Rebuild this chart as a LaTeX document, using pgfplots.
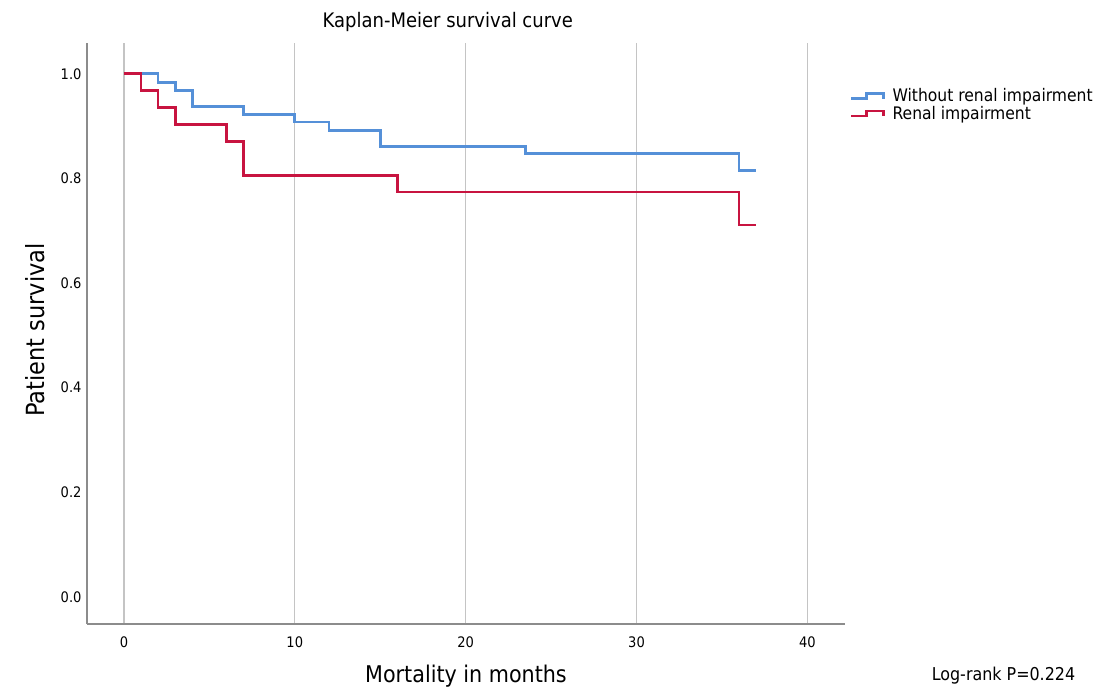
\documentclass[border=0pt]{standalone}
\usepackage{pgfplots}
\pgfplotsset{compat=1.18}
\usepackage{fontspec}
\setmainfont{DejaVu Sans Condensed}
\definecolor{kmblue}{HTML}{5590D8}
\definecolor{kmred}{HTML}{C81440}
\definecolor{gridgray}{HTML}{C4C4C4}
\definecolor{axgray}{HTML}{8C8C8C}
\begin{document}
\begin{tikzpicture}[x=1pt,y=1pt]
\path[use as bounding box] (0,0) rectangle (1099,-688);
\begin{axis}[
  at={(87pt,-624pt)}, anchor=south west,
  scale only axis, width=758pt, height=581pt,
  xmin=-2.16, xmax=42.2, ymin=-0.052, ymax=1.059,
  axis x line*=bottom, axis y line*=left,
  axis line style={-, axgray, line width=1.3pt},
  xtick={0,10,20,30,40},
  ytick={0,0.2,0.4,0.6,0.8,1.0},
  major tick length=0pt,
  xmajorgrids,
  major grid style={gridgray, line width=1.3pt},
  /pgf/number format/assume math mode=true,
  yticklabel style={font=\fontsize{14.5}{16}\selectfont, anchor=east, xshift=-2pt,
    /pgf/number format/.cd, fixed, fixed zerofill, precision=1},
  xticklabel style={font=\fontsize{14.5}{16}\selectfont, yshift=-9pt},
  title={Kaplan-Meier survival curve},
  title style={font=\fontsize{20}{24}\selectfont, at={(rel axis cs:0.476,1.0396)}, anchor=center, yshift=-8pt},
  xlabel={Mortality in months},
  xlabel style={font=\fontsize{23}{27}\selectfont, at={(rel axis cs:0.5,-0.0895)}, anchor=center},
  ylabel={Patient survival},
  ylabel style={font=\fontsize{25}{29}\selectfont, at={(rel axis cs:-0.0686,0.506)}, anchor=center, rotate=0},
  legend style={at={(rel axis cs:1.0066,0.925)}, anchor=north west, draw=none, fill=none,
    font=\fontsize{17.3}{20}\selectfont, row sep=-1pt, inner sep=0pt,
    /tikz/every odd column/.append style={column sep=6pt}},
  legend cell align=left,
  legend image code/.code={\draw[#1, line width=2.4pt] (0pt,-2.5pt) -- (15pt,-2.5pt) -- (15pt,2.5pt) -- (32pt,2.5pt) -- (32pt,-2.5pt);},
  clip=false,
]
\addplot[const plot, kmblue, line width=2.8pt] coordinates {
 (0,1.000) (2,0.984) (3,0.968) (4,0.938) (7,0.923) (10,0.908) (12,0.891)
 (15,0.861) (23.5,0.847) (36,0.815) (37,0.815)
};
\addlegendentry{Without renal impairment}
\addplot[const plot, kmred, line width=2.8pt] coordinates {
 (0,1.000) (1,0.968) (2,0.935) (3,0.903) (6,0.871) (7,0.806) (16,0.774)
 (36,0.711) (37,0.711)
};
\addlegendentry{Renal impairment}
\node[font=\fontsize{17.7}{20}\selectfont, anchor=center] at (rel axis cs:1.2091,-0.0895) {Log-rank P=0.224};
\end{axis}
\end{tikzpicture}
\end{document}
